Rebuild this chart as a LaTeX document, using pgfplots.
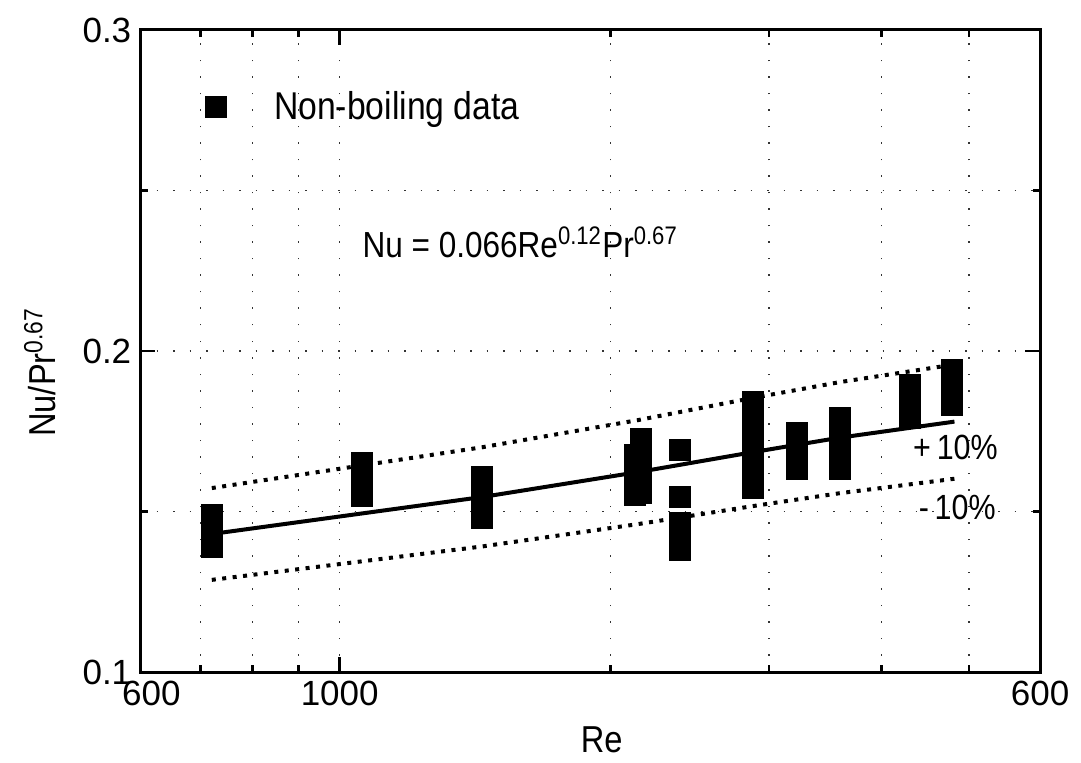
\documentclass[border=0pt]{standalone}
\usepackage{fontspec}
\setmainfont{Liberation Sans}
\newfontfamily\condfont{Liberation Sans}[FakeStretch=0.87]
\usepackage{pgfplots}
\pgfplotsset{compat=1.18}
\usepackage{pgfplotstable}

\pgfplotstableread{
Re y
721 0.1390
721 0.1415
721 0.1440
721 0.1465
721 0.1489
1059 0.1548
1059 0.1575
1059 0.1600
1059 0.1625
1059 0.1651
1439 0.1480
1439 0.1510
1439 0.1540
1439 0.1570
1439 0.1607
2131 0.1551
2131 0.1580
2131 0.1610
2131 0.1640
2131 0.1676
2164 0.1558
2164 0.1590
2164 0.1625
2164 0.1660
2164 0.1695
2164 0.1726
2389 0.1692
2389 0.1545
2389 0.1464
2389 0.1422
2389 0.1380
2880 0.1573
2880 0.1600
2880 0.1627
2880 0.1654
2880 0.1680
2880 0.1707
2880 0.1734
2880 0.1760
2880 0.1787
2880 0.1814
2880 0.1841
3223 0.1632
3223 0.1660
3223 0.1690
3223 0.1720
3223 0.1745
3594 0.1632
3594 0.1660
3594 0.1690
3594 0.1720
3594 0.1755
3594 0.1791
4307 0.1791
4307 0.1817
4307 0.1843
4307 0.1868
4307 0.1894
4786 0.1832
4786 0.1859
4786 0.1886
4786 0.1913
4786 0.1940
}\nonboiling

\pgfplotstableread{
Re y
721 0.1430
1439 0.1545
2148 0.1623
2880 0.1685
3594 0.1730
4820 0.1780
}\fitline

\pgfplotstableread{
Re y
721 0.1573
1439 0.1700
2148 0.1785
2880 0.1854
3594 0.1903
4820 0.1958
}\upperline

\pgfplotstableread{
Re y
721 0.1287
1439 0.1391
2148 0.1461
2880 0.1517
3594 0.1557
4820 0.1602
}\lowerline

\begin{document}
\begin{tikzpicture}
\begin{axis}[
  scale only axis,
  width=360pt, height=256.8pt,
  xmode=log,
  xmin=600, xmax=6000,
  ymin=0.1, ymax=0.3,
  xtick={600,1000,6000},
  xticklabels={\hspace*{9pt}600,1000,600},
  minor xtick={700,800,900,2000,3000,4000,5000},
  ytick={0.1,0.2,0.3},
  yticklabels={0.1,0.2,0.3},
  minor ytick={0.15,0.25},
  tick align=inside,
  major tick length=6pt,
  minor tick length=3pt,
  tick style={black, line width=1pt},
  axis line style={line width=1.2pt},
  grid=both,
  major grid style={black!80, line width=0.6pt, dash pattern=on 0.6pt off 6pt},
  minor grid style={black!80, line width=0.6pt, dash pattern=on 0.6pt off 6pt},
  ticklabel style={font=\fontsize{14}{16}\selectfont},
  xlabel={Re},
  ylabel={Nu/Pr\textsuperscript{0.67}},
  label style={font=\condfont\fontsize{15}{17}\selectfont},
  xlabel style={at={(axis description cs:0.513,0)}, anchor=center, yshift=-27pt},
  ylabel style={at={(axis description cs:0,0.467)}, anchor=center, yshift=40pt},
  legend style={at={(axis description cs:0.064,0.88)}, anchor=west, draw=none, fill=none,
    font=\condfont\fontsize{15.5}{17}\selectfont},
  legend cell align=left,
]
\addplot[black, line width=1.6pt, dash pattern=on 1.6pt off 2.6pt, forget plot] table[x=Re,y=y] {\upperline};
\addplot[black, line width=1.6pt, dash pattern=on 1.6pt off 2.6pt, forget plot] table[x=Re,y=y] {\lowerline};
\addplot[black, line width=1.6pt, forget plot] table[x=Re,y=y] {\fitline};
\addplot[only marks, mark=square*, mark size=4.2pt, black] table[x=Re,y=y] {\nonboiling};
\addlegendentry{\hspace*{17pt}Non-boiling data}
\node[anchor=base west, inner sep=0pt, font=\condfont\fontsize{14.5}{17}\selectfont] at (rel axis cs:0.2467,0.646)
  {Nu = 0.066Re\textsuperscript{0.12}Pr\textsuperscript{0.67}};
\node[anchor=center, font=\condfont\fontsize{14}{16}\selectfont] at (rel axis cs:0.906,0.350) {+\,10\%};
\node[anchor=center, font=\condfont\fontsize{14}{16}\selectfont] at (rel axis cs:0.908,0.257) {-\,10\%};
\end{axis}
\pgfresetboundingbox
\path (-56pt,-36pt) rectangle (376.4pt,268.8pt);
\end{tikzpicture}
\end{document}
